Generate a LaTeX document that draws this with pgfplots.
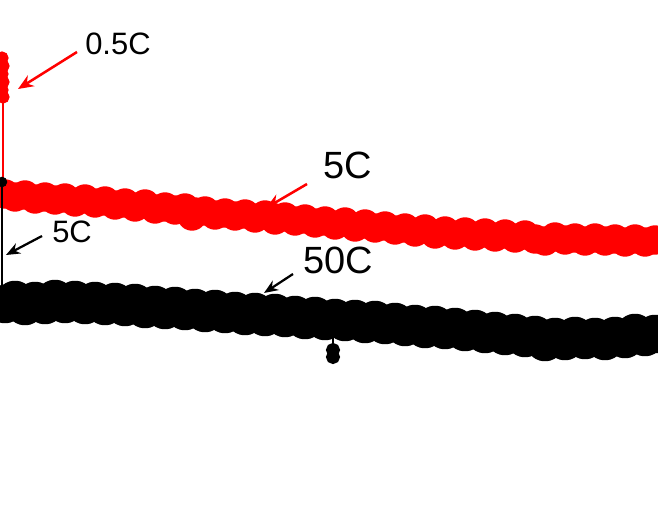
\documentclass[border=0pt]{standalone}
\usepackage{pgfplots}
\pgfplotsset{compat=1.18}
\usepackage{fontspec}
\setmainfont{Liberation Sans}
\usetikzlibrary{arrows.meta}

% one axis unit = one pixel of the reference (0.025cm)
\pgfplotstableread{
x y
5 194
15 197
25 195
35 199
45 197
55 200
65 198
75 202
85 199
95 203
105 201
115 205
125 203
135 207
145 204
155 209
165 207
175 210
185 208
192 216
195 212
205 211
215 215
225 213
235 216
245 214
255 218
265 215
275 220
285 217
295 221
305 219
315 223
325 221
335 225
345 222
355 227
365 224
375 228
385 226
395 230
405 228
415 232
425 229
435 234
445 231
455 235
465 232
475 236
485 233
495 237
505 234
515 238
525 235
535 239
545 241
555 237
565 240
575 238
585 241
595 238
605 241
615 239
625 242
635 239
645 242
655 240
}\redfive

\pgfplotstableread{
x y
5 304
15 300
25 306
35 301
45 305
55 299
65 304
75 300
85 305
95 301
105 306
115 302
125 307
135 303
145 309
155 305
165 310
175 306
185 311
195 308
205 313
215 309
225 314
235 311
245 316
255 312
265 317
275 313
285 318
295 315
305 320
315 316
325 321
335 318
345 322
355 319
365 324
375 320
385 325
395 322
405 327
415 324
425 329
435 325
445 330
455 327
465 332
475 329
485 334
495 331
505 336
515 333
525 338
535 335
545 342
555 337
565 341
575 336
585 340
595 337
605 341
615 336
625 339
635 333
645 337
655 334
}\blackfifty

\begin{document}
\begin{tikzpicture}
\begin{axis}[
    scale only axis,
    width=16.45cm, height=13.225cm,
    xmin=0, xmax=658, ymin=0, ymax=529,
    y dir=reverse,
    hide axis,
    clip=true,
    clip marker paths=true,
]
% 0.5C
\addplot[red, line width=1.4pt, mark=*, mark size=4pt, mark options={fill=red}]
    coordinates {(2,58)(3,66)(2,74)(3,82)(2,90)(3,97)};
\addplot[red, line width=1.4pt] coordinates {(3,97)(3,192)};
% 5C (red)
\addplot[red, mark=*, mark size=5pt, mark options={fill=red}, line width=11pt, line join=round]
    table[x=x, y=y] {\redfive};
% 5C (black step)
\addplot[black, line width=1.4pt, mark=*, mark size=3pt, mark repeat=2]
    coordinates {(2,182)(2,300)};
% 50C
\addplot[black, mark=*, mark size=6.3pt, mark options={fill=black}, line width=15pt, line join=round]
    table[x=x, y=y] {\blackfifty};
\addplot[black, line width=2pt, mark=*, mark size=4pt, mark indices={3,4}]
    coordinates {(333,325)(333,340)(333,350)(333,357)};

% labels and arrows
\node[anchor=base west, inner sep=0pt, font=\fontsize{22}{26}\selectfont]
    at (axis cs:85,55) {0.5C};
\draw[red, line width=1.8pt, -{Stealth[length=11pt, width=9pt]}]
    (axis cs:77,52) -- (axis cs:18,89);
\node[anchor=base west, inner sep=0pt, font=\fontsize{27}{32}\selectfont]
    at (axis cs:323,179) {5C};
\draw[red, line width=1.8pt, -{Stealth[length=11pt, width=9pt]}]
    (axis cs:307,184) -- (axis cs:266,208);
\node[anchor=base west, inner sep=0pt, font=\fontsize{22}{26}\selectfont]
    at (axis cs:52,243) {5C};
\draw[black, line width=1.6pt, -{Stealth[length=10pt, width=8pt]}]
    (axis cs:42,236) -- (axis cs:6,255);
\node[anchor=base west, inner sep=0pt, font=\fontsize{27}{32}\selectfont]
    at (axis cs:303,274) {50C};
\draw[black, line width=1.6pt, -{Stealth[length=10pt, width=8pt]}]
    (axis cs:293,274) -- (axis cs:264,293);
\end{axis}
\pgfresetboundingbox
\path[use as bounding box] (current axis.south west) rectangle (current axis.north east);
\end{tikzpicture}
\end{document}
